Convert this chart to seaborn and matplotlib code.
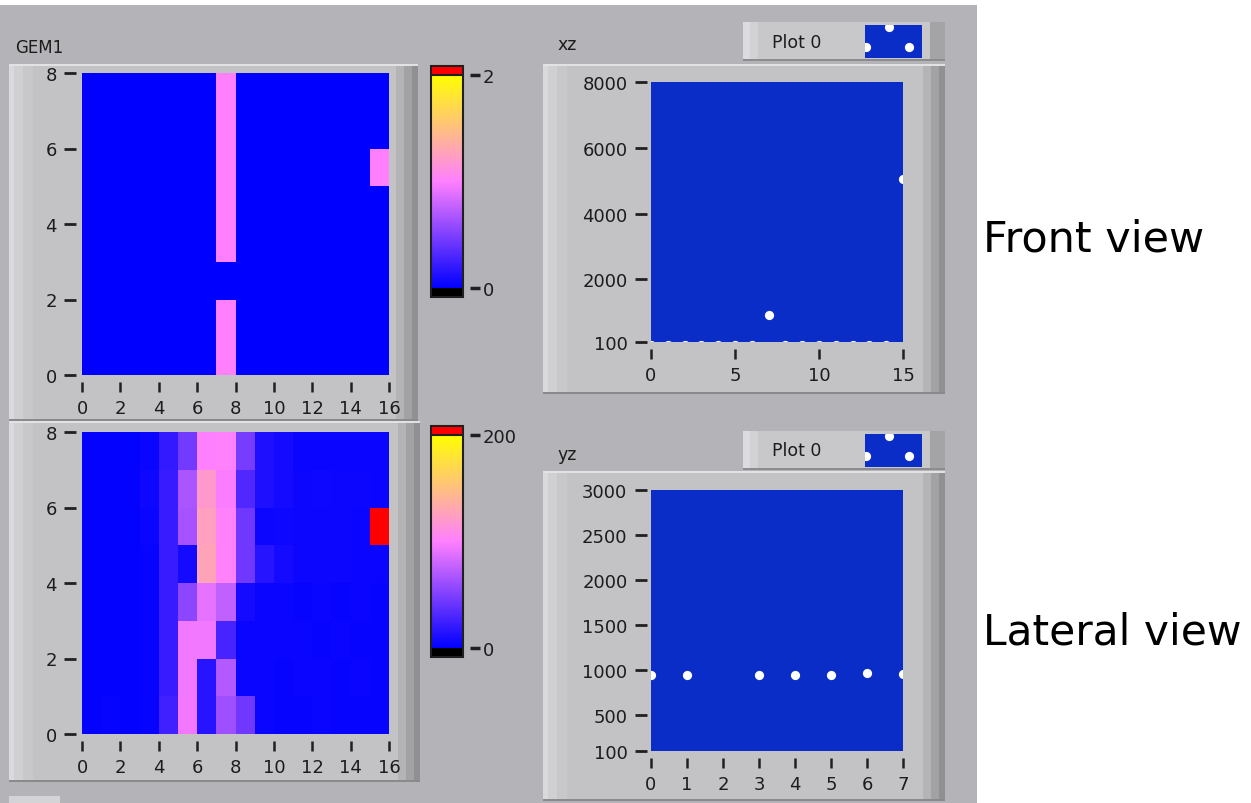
import numpy as np
import matplotlib
matplotlib.use("Agg")
import matplotlib.pyplot as plt
import matplotlib.path as mpath
import seaborn as sns
from matplotlib.colors import LinearSegmentedColormap
from matplotlib.patches import Rectangle

# ---------------- data ----------------
# GEM1 intensity maps: rows are y = 0..7 (bottom to top), columns x = 0..15
gem1_top = [
    [0, 0, 0, 0, 0, 0, 0, 1, 0, 0, 0, 0, 0, 0, 0, 0],
    [0, 0, 0, 0, 0, 0, 0, 1, 0, 0, 0, 0, 0, 0, 0, 0],
    [0, 0, 0, 0, 0, 0, 0, 0, 0, 0, 0, 0, 0, 0, 0, 0],
    [0, 0, 0, 0, 0, 0, 0, 1, 0, 0, 0, 0, 0, 0, 0, 0],
    [0, 0, 0, 0, 0, 0, 0, 1, 0, 0, 0, 0, 0, 0, 0, 0],
    [0, 0, 0, 0, 0, 0, 0, 1, 0, 0, 0, 0, 0, 0, 0, 1],
    [0, 0, 0, 0, 0, 0, 0, 1, 0, 0, 0, 0, 0, 0, 0, 0],
    [0, 0, 0, 0, 0, 0, 0, 1, 0, 0, 0, 0, 0, 0, 0, 0],
]
gem1_bottom = [
    [2, 3, 2, 3, 25, 95, 15, 62, 44, 4, 3, 3, 4, 3, 3, 3],
    [2, 2, 2, 3, 22, 95, 15, 70, 4, 4, 3, 4, 4, 3, 4, 3],
    [2, 2, 2, 3, 22, 95, 95, 28, 4, 4, 4, 4, 3, 4, 3, 3],
    [2, 2, 2, 3, 22, 55, 90, 75, 8, 4, 4, 3, 4, 3, 4, 3],
    [2, 2, 2, 3, 22, 8, 128, 102, 44, 15, 8, 5, 5, 5, 4, 4],
    [2, 2, 2, 4, 22, 65, 125, 102, 44, 5, 6, 5, 5, 5, 4, 250],
    [2, 2, 2, 6, 22, 67, 120, 98, 32, 12, 8, 5, 6, 5, 5, 4],
    [2, 2, 2, 4, 20, 45, 100, 102, 47, 12, 8, 4, 4, 4, 4, 4],
]
top_range = (0, 2)
bottom_range = (0, 200)
map_xticks = [0, 2, 4, 6, 8, 10, 12, 14, 16]
map_yticks = [0, 2, 4, 6, 8]

xz_x = list(range(16))
xz_z = [0, 0, 0, 0, 0, 0, 0, 930, 0, 0, 0, 0, 0, 0, 0, 5050]
xz_yticks = [100, 2000, 4000, 6000, 8000]
xz_xticks = [0, 5, 10, 15]

yz_y = list(range(8))
yz_z = [945, 945, 0, 945, 945, 945, 965, 960]
yz_yticks = [100, 500, 1000, 1500, 2000, 2500, 3000]
yz_xticks = [0, 1, 2, 3, 4, 5, 6, 7]

# ---------------- style ----------------
sns.set_theme(style="white")
plt.rcParams["font.family"] = ["DejaVu Sans"]

W, H = 1251, 804
PANEL = "#b4b3b8"
FRAME = "#c3c3c5"
TXT = "#1c1c1c"
PLOT_BLUE = "#0a2dc8"
DOT_SIZE = 44

cmap = LinearSegmentedColormap.from_list(
    "labview", [(0.0, (0, 0, 1)), (0.5, (1, 0.5, 1)), (1.0, (1, 1, 0))])
cmap.set_under("black")
cmap.set_over("red")


def box(x0, y0, x1, y1):
    return [x0 / W, 1 - y1 / H, (x1 - x0) / W, (y1 - y0) / H]


def frect(fig, x0, y0, x1, y1, color, z=-5):
    fig.add_artist(Rectangle((x0 / W, 1 - y1 / H), (x1 - x0) / W, (y1 - y0) / H,
                             transform=fig.transFigure, facecolor=color,
                             edgecolor="none", zorder=z))


def frame(fig, x0, y0, x1, y1):
    frect(fig, x0, y0, x1, y1, FRAME, -6)
    frect(fig, x0, y0, x0 + 5, y1, "#dadadc", -5)
    frect(fig, x0 + 5, y0, x0 + 14, y1, "#d0d0d2", -5)
    frect(fig, x0 + 14, y0, x0 + 24, y1, "#c8c8ca", -5)
    frect(fig, x1 - 22, y0, x1 - 14, y1, "#b4b4b6", -5)
    frect(fig, x1 - 14, y0, x1 - 6, y1, "#a2a2a4", -5)
    frect(fig, x1 - 6, y0, x1, y1, "#909092", -5)
    frect(fig, x0, y0, x1, y0 + 2, "#e2e2e4", -4)
    frect(fig, x0, y1 - 2, x1, y1, "#8a8a8c", -4)


def clip_to_axes(coll, ax):
    coll.set_clip_on(True)
    coll.set_clip_path(mpath.Path.unit_rectangle(), ax.transAxes)


fig = plt.figure(figsize=(W / 100, H / 100), dpi=100)
fig.patch.set_facecolor("white")
frect(fig, 0, 6, 977, 804, PANEL, -10)

# frames
frame(fig, 9, 65, 418, 422)
frame(fig, 9, 422, 420, 783)
frame(fig, 543, 65, 945, 395)
frame(fig, 543, 472, 945, 802)
frect(fig, 9, 797, 60, 804, "#d4d4d6", -5)


def style_axis(ax, xgap=5, ygap=4):
    for s in ax.spines.values():
        s.set_visible(False)
    ax.spines["left"].set_position(("outward", ygap))
    ax.spines["bottom"].set_position(("outward", xgap))
    ax.tick_params(axis="y", left=True, direction="out", length=9, width=2,
                   color="#202020", pad=5, labelsize=13, labelcolor=TXT)
    ax.tick_params(axis="x", bottom=True, direction="out", length=7, width=1.8,
                   color="#202020", pad=5, labelsize=13, labelcolor=TXT)


def intensity(data, rng, ax_box, cax_box):
    ax = fig.add_axes(box(*ax_box))
    cax = fig.add_axes(box(*cax_box))
    sns.heatmap(np.array(data), ax=ax, cmap=cmap, vmin=rng[0], vmax=rng[1],
                cbar_ax=cax, xticklabels=False, yticklabels=False,
                cbar_kws=dict(extend="both", extendrect=True, extendfrac=0.04,
                              ticks=[rng[0], rng[1]]))
    ax.set_xlim(0, 16)
    ax.set_ylim(0, 8)
    ax.set_xticks(map_xticks)
    ax.set_xticklabels([str(t) for t in map_xticks])
    ax.set_yticks(map_yticks)
    ax.set_yticklabels([str(t) for t in map_yticks])
    style_axis(ax)
    cbar = ax.collections[0].colorbar
    cbar.outline.set_edgecolor("#202020")
    cbar.outline.set_linewidth(1.5)
    cbar.ax.spines["right"].set_position(("outward", 5))
    cbar.ax.tick_params(direction="out", length=7, width=2.5, color="#202020",
                        pad=2, labelsize=13, labelcolor=TXT)
    cbar.ax.set_yticklabels([str(rng[0]), str(rng[1])])
    cbar.ax.axhline(rng[1], color="#202020", lw=1.5, clip_on=False)
    return ax


intensity(gem1_top, top_range, (82, 74, 389, 376), (431, 67, 463, 298))
intensity(gem1_bottom, bottom_range, (82, 433, 389, 735), (431, 427, 463, 658))


def scatter_panel(xs, zs, ax_box, xlim, ylim, xticks, yticks):
    ax = fig.add_axes(box(*ax_box))
    ax.set_facecolor(PLOT_BLUE)
    sns.scatterplot(x=xs, y=zs, ax=ax, color="white", s=DOT_SIZE, linewidth=0,
                    legend=False)
    for c in ax.collections:
        clip_to_axes(c, ax)
    ax.set_xlim(*xlim)
    ax.set_ylim(*ylim)
    ax.set_xticks(xticks)
    ax.set_xticklabels([str(t) for t in xticks])
    ax.set_yticks(yticks)
    ax.set_yticklabels([str(t) for t in yticks])
    style_axis(ax, xgap=5, ygap=3)
    return ax


scatter_panel(xz_x, xz_z, (651, 83, 903, 343), (0, 15), (100, 8000),
              xz_xticks, xz_yticks)
scatter_panel(yz_y, yz_z, (651, 491, 903, 752), (0, 7), (100, 3000),
              yz_xticks, yz_yticks)


def legend_box(y0, y1):
    frect(fig, 743, y0, 945, y1, "#c8c8ca", -5)
    frect(fig, 743, y0, 750, y1, "#dcdcde", -4)
    frect(fig, 750, y0, 758, y1, "#d2d2d4", -4)
    frect(fig, 930, y0, 945, y1, "#a4a4a6", -4)
    frect(fig, 743, y1 - 2, 945, y1, "#8c8c8e", -4)
    fig.text(772 / W, 1 - (y0 + y1) / 2 / H, "Plot 0", fontsize=12.5,
             color=TXT, ha="left", va="center")
    lax = fig.add_axes(box(865, y0 + 3, 922, y1 - 3))
    lax.set_facecolor(PLOT_BLUE)
    lax.set_xlim(0, 1)
    lax.set_ylim(0, 1)
    pts = lax.scatter([0.02, 0.42, 0.77], [0.33, 0.95, 0.33], s=DOT_SIZE,
                      color="white", linewidth=0)
    clip_to_axes(pts, lax)
    lax.set_xticks([])
    lax.set_yticks([])
    for s in lax.spines.values():
        s.set_visible(False)


legend_box(23, 62)
legend_box(432, 471)

fig.text(15 / W, 1 - 48 / H, "GEM1", fontsize=12, color=TXT, ha="left",
         va="center")
fig.text(557 / W, 1 - 45 / H, "xz", fontsize=12.5, color=TXT, ha="left",
         va="center")
fig.text(557 / W, 1 - 455 / H, "yz", fontsize=12.5, color=TXT, ha="left",
         va="center")
fig.text(983 / W, 1 - 240 / H, "Front view", fontsize=31, color="black",
         ha="left", va="center")
fig.text(983 / W, 1 - 633 / H, "Lateral view", fontsize=30.5, color="black",
         ha="left", va="center")

fig.savefig("out.png", dpi=100)
